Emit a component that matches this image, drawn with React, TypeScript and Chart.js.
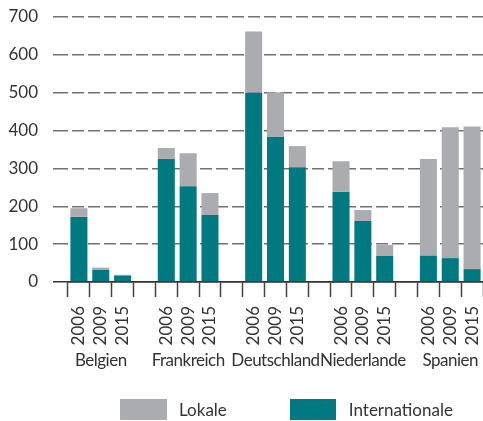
import React, { useEffect, useRef } from 'react';
import { Chart, registerables } from 'chart.js';

Chart.register(...registerables);

const groups = ['Belgien', 'Frankreich', 'Deutschland', 'Niederlande', 'Spanien'];
const years = ['2006', '2009', '2015'];
const internationale = [172, 32, 17, 325, 253, 177, 500, 384, 303, 238, 161, 69, 69, 63, 34];
const lokale = [23, 6, 2, 29, 87, 58, 162, 117, 56, 81, 29, 29, 256, 346, 377];
const yMax = 700;
const yStep = 100;

const TEAL = '#007A80';
const GRAY = '#ABACAF';
const FONT = 'Lato, "Open Sans", sans-serif';
const TEXT = '#333333';

function withGaps<T>(values: T[], gap: T): T[] {
  const out: T[] = [];
  groups.forEach((_, gi) => {
    if (gi > 0) out.push(gap);
    years.forEach((_, yi) => out.push(values[gi * years.length + yi]));
  });
  return out;
}

const labels = withGaps(groups.flatMap(() => years), '');

const groupLabelPlugin = {
  id: 'groupLabels',
  afterDraw(chart: any) {
    const x = chart.scales.x;
    const ctx = chart.ctx;
    ctx.save();
    ctx.font = `17px ${FONT}`;
    ctx.fillStyle = TEXT;
    ctx.textAlign = 'center';
    ctx.textBaseline = 'alphabetic';
    try {
      (ctx as any).letterSpacing = '-0.5px';
    } catch (e) {
      /* ignore */
    }
    groups.forEach((g, gi) => {
      const idx = gi * (years.length + 1) + 1;
      ctx.fillText(g, x.getPixelForValue(idx), 358);
    });
    ctx.restore();
  },
};

export default function App() {
  const ref = useRef<HTMLCanvasElement>(null);
  useEffect(() => {
    if (!ref.current) return;
    const chart = new Chart(ref.current, {
      type: 'bar',
      data: {
        labels,
        datasets: [
          {
            label: 'Internationale',
            data: withGaps<number | null>(internationale, null),
            backgroundColor: TEAL,
            borderWidth: 0,
          },
          {
            label: 'Lokale',
            data: withGaps<number | null>(lokale, null),
            backgroundColor: GRAY,
            borderWidth: 0,
          },
        ],
      },
      options: {
        animation: false,
        responsive: true,
        maintainAspectRatio: false,
        datasets: { bar: { barPercentage: 0.78, categoryPercentage: 1 } },
        layout: { padding: { top: 9, right: 0, left: 0, bottom: 0 } },
        plugins: { legend: { display: false }, tooltip: { enabled: false } },
        scales: {
          x: {
            stacked: true,
            offset: true,
            afterFit: (s: any) => {
              s.height = 139;
              s.paddingLeft = 0;
              s.paddingRight = 0;
            },
            grid: {
              display: true,
              offset: true,
              drawOnChartArea: false,
              drawTicks: true,
              tickLength: 15,
              tickColor: '#444',
              tickWidth: 1.5,
            },
            border: { display: true, color: '#333', width: 1.5 },
            ticks: {
              autoSkip: false,
              maxRotation: 90,
              minRotation: 90,
              padding: 9,
              color: TEXT,
              font: { family: FONT, size: 17 },
            },
          },
          y: {
            stacked: true,
            min: 0,
            max: yMax,
            afterFit: (s: any) => {
              s.width = 60;
              s.paddingTop = 0;
              s.paddingBottom = 0;
            },
            grid: {
              color: (c: any) => (c.tick && c.tick.value === 0 ? '#333' : '#707070'),
              lineWidth: 1.5,
              drawTicks: true,
              tickLength: 15,
              tickColor: (c: any) => (c.tick && c.tick.value === 0 ? '#333' : '#707070'),
              tickWidth: 1.5,
              tickBorderDash: [],
            },
            border: {
              display: false,
              dash: (c: any) => (c.tick && c.tick.value === 0 ? [] : [12, 4]),
              dashOffset: 12,
            },
            ticks: {
              stepSize: yStep,
              padding: 15,
              color: TEXT,
              font: { family: FONT, size: 17 },
            },
          },
        },
      },
      plugins: [groupLabelPlugin],
    });
    return () => chart.destroy();
  }, []);

  const legendText: React.CSSProperties = {
    fontFamily: FONT,
    fontSize: 17,
    color: TEXT,
  };

  return (
    <div style={{ position: 'absolute', left: 8, top: 8, width: 475, height: 413 }}>
      <canvas ref={ref} />
      <div
        style={{
          position: 'absolute',
          left: 112,
          top: 391,
          display: 'flex',
          alignItems: 'center',
          height: 21,
        }}
      >
        <div style={{ width: 47, height: 21, background: GRAY, marginRight: 12 }} />
        <span style={{ ...legendText, marginRight: 63 }}>Lokale</span>
        <div style={{ width: 46, height: 21, background: TEAL, marginRight: 13 }} />
        <span style={legendText}>Internationale</span>
      </div>
    </div>
  );
}
